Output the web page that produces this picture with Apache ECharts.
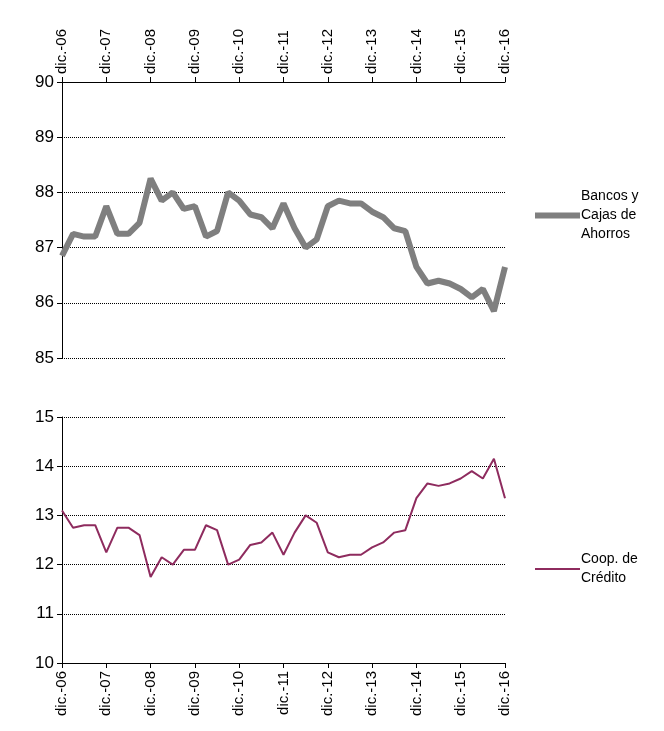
<!DOCTYPE html>
<html><head><meta charset="utf-8">
<script src="https://cdn.jsdelivr.net/npm/echarts@6/dist/echarts.min.js"></script>
<style>html,body{margin:0;padding:0;background:#fff}#c{width:664px;height:731px}</style>
</head><body><div id="c"></div>
<script>
// quarters dic.-06 .. dic.-16
var months = ['mar.', 'jun.', 'sep.', 'dic.'];
var categories = ['dic.-06'];
for (var y = 7; y <= 16; y++) {
  for (var m = 0; m < 4; m++) categories.push(months[m] + '-' + (y < 10 ? '0' + y : y));
}
var bancos = [86.85, 87.25, 87.2, 87.2, 87.75, 87.25, 87.25, 87.45, 88.25, 87.85, 88.0, 87.7, 87.75,
  87.2, 87.3, 88.0, 87.85, 87.6, 87.55, 87.35, 87.8, 87.35, 87.0, 87.15, 87.75, 87.85, 87.8, 87.8,
  87.65, 87.55, 87.35, 87.3, 86.65, 86.35, 86.4, 86.35, 86.25, 86.1, 86.25, 85.85, 86.65];
var coop = [13.1, 12.75, 12.8, 12.8, 12.25, 12.75, 12.75, 12.6, 11.75, 12.15, 12.0, 12.3, 12.3,
  12.8, 12.7, 12.0, 12.1, 12.4, 12.45, 12.65, 12.2, 12.65, 13.0, 12.85, 12.25, 12.15, 12.2, 12.2,
  12.35, 12.45, 12.65, 12.7, 13.35, 13.65, 13.6, 13.65, 13.75, 13.9, 13.75, 14.15, 13.35];

var font = 'Liberation Sans, Arial, sans-serif';
function xAxis(idx, pos, rot) {
  return {
    type: 'category', gridIndex: idx, position: pos, data: categories, boundaryGap: false,
    axisLine: {lineStyle: {color: '#000'}},
    axisTick: {interval: 3, lineStyle: {color: '#000'}},
    axisLabel: {interval: 3, rotate: rot, color: '#000', fontSize: 15, fontFamily: font}
  };
}
function yAxis(idx, min, max) {
  return {
    type: 'value', gridIndex: idx, min: min, max: max, interval: 1,
    axisLine: {show: true, lineStyle: {color: '#000'}},
    axisTick: {show: true, lineStyle: {color: '#000'}},
    axisLabel: {color: '#000', fontSize: 17, fontFamily: font},
    splitLine: {lineStyle: {color: '#000', type: 'dotted'}}
  };
}
var chart = echarts.init(document.getElementById('c'));
chart.setOption({
  animation: false,
  grid: [
    {left: 62, right: 159, top: 82, height: 276},
    {left: 62, right: 159, top: 417, height: 246}
  ],
  xAxis: [xAxis(0, 'top', -90), xAxis(1, 'bottom', 90)],
  yAxis: [yAxis(0, 85, 90), yAxis(1, 10, 15)],
  legend: [
    {data: [{name: 'Bancos y\nCajas de\nAhorros', icon: 'rect'}], left: 530, top: 182, orient: 'vertical',
     itemWidth: 45, itemHeight: 6, itemGap: 4,
     textStyle: {fontSize: 14, fontFamily: font, color: '#000', lineHeight: 19, padding: [0, 0, 0, -4]}},
    {data: [{name: 'Coop. de\nCrédito', icon: 'rect'}], left: 530, top: 545, orient: 'vertical',
     itemWidth: 45, itemHeight: 2,
     textStyle: {fontSize: 14, fontFamily: font, color: '#000', lineHeight: 19, padding: [0, 0, 0, -4]}}
  ],
  series: [
    {name: 'Bancos y\nCajas de\nAhorros', type: 'line', xAxisIndex: 0, yAxisIndex: 0, data: bancos,
     showSymbol: false, symbol: 'none', color: '#7f7f7f', lineStyle: {width: 6, color: '#7f7f7f'}},
    {name: 'Coop. de\nCrédito', type: 'line', xAxisIndex: 1, yAxisIndex: 1, data: coop,
     showSymbol: false, symbol: 'none', color: '#8e2b5e', lineStyle: {width: 2, color: '#8e2b5e'}}
  ]
});
</script></body></html>
